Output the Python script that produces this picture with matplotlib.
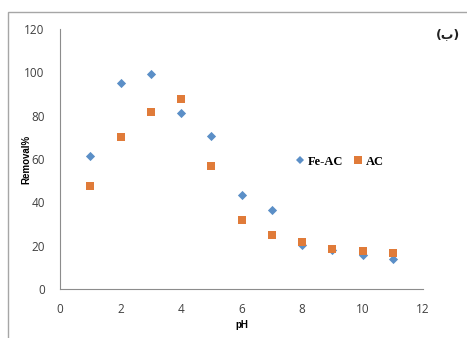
import matplotlib
matplotlib.use("Agg")
import matplotlib.pyplot as plt
from matplotlib.patches import Rectangle
from matplotlib.lines import Line2D

ph = [1, 2, 3, 4, 5, 6, 7, 8, 9, 10, 11]
fe_ac = [61.2, 95.1, 99.2, 81.2, 70.4, 43.3, 36.5, 20.3, 18.0, 15.7, 13.7]
ac = [47.6, 70.0, 81.5, 87.7, 57.0, 31.9, 24.7, 21.6, 18.3, 17.6, 16.6]
xticks = [0, 2, 4, 6, 8, 10, 12]
yticks = [0, 20, 40, 60, 80, 100, 120]

blue = "#5B8FC7"
orange = "#E07B39"

W, H = 467, 338
fig = plt.figure(figsize=(W / 100, H / 100), dpi=100)
fig.patch.set_facecolor("white")
# outer frame
fig.patches.append(Rectangle((8 / W, -0.1), 1.2, 1 - 12 / H + 0.1, transform=fig.transFigure,
                             fill=False, edgecolor="#A6A6A6", linewidth=1.0))

ax = fig.add_axes([60 / W, 1 - 289 / H, (423 - 60) / W, (289 - 29) / H])
ax.scatter(ph, fe_ac, marker="D", s=22, color=blue, zorder=3, linewidths=0)
ax.scatter(ph, ac, marker="s", s=40, color=orange, zorder=4, linewidths=0)

ax.set_xlim(0, 12)
ax.set_ylim(0, 120)
ax.set_xticks(xticks)
ax.set_yticks(yticks)
for s in ["top", "right"]:
    ax.spines[s].set_visible(False)
for s in ["left", "bottom"]:
    ax.spines[s].set_color("#8C8C8C")
    ax.spines[s].set_linewidth(0.8)
ax.tick_params(length=0, labelsize=8.5, colors="#404040", labelcolor="#404040")
ax.tick_params(axis="x", pad=10)
ax.tick_params(axis="y", pad=11)
for lab in ax.get_xticklabels() + ax.get_yticklabels():
    lab.set_family("Open Sans")

ax.set_xlabel("pH", fontsize=7, fontweight="bold", family="Liberation Sans")
ax.set_ylabel("Removal%", fontsize=7, fontweight="bold", family="Liberation Sans")
ax.xaxis.set_label_coords(0.5, (289 - 320) / 260)
ax.yaxis.set_label_coords((31 - 60) / 363, 0.5)

handles = [Line2D([], [], marker="D", linestyle="", color=blue, markersize=4, markeredgewidth=0),
           Line2D([], [], marker="s", linestyle="", color=orange, markersize=6, markeredgewidth=0)]
leg = ax.legend(handles, ["Fe-AC", "AC"], ncol=2, frameon=False,
                loc="center left", bbox_to_anchor=(0.62, 0.49),
                handlelength=0.6, handletextpad=0.3, columnspacing=0.9,
                prop={"family": "Liberation Serif", "weight": "bold", "size": 9})

fig.text(448 / W, 1 - 35 / H, "(ب)", fontsize=9, fontweight="bold",
         family=["DejaVu Sans"], ha="center", va="center", color="#222222")

fig.savefig("out.png", dpi=100)
